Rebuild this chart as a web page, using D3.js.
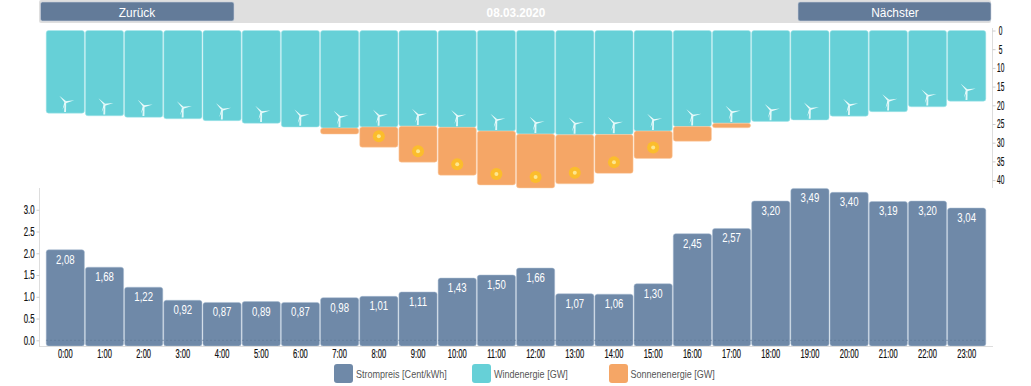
<!DOCTYPE html>
<html>
<head>
<meta charset="utf-8">
<script src="https://cdnjs.cloudflare.com/ajax/libs/d3/7.8.5/d3.min.js"></script>
<style>
  html, body { margin: 0; padding: 0; background: #fff; overflow: hidden; }
  svg { display: block; }
  text { font-family: "Liberation Sans", sans-serif; }
  .axis path { display: none; }
  .axis line { stroke: #ccc; }
  .axis text { fill: #111; font-size: 12px; stroke: #111; stroke-width: 0.2px; }
</style>
</head>
<body>
<svg width="1031" height="386"></svg>
<script>
const hours = ["0:00", "1:00", "2:00", "3:00", "4:00", "5:00", "6:00", "7:00", "8:00", "9:00", "10:00", "11:00",
    "12:00", "13:00", "14:00", "15:00", "16:00", "17:00", "18:00", "19:00", "20:00", "21:00", "22:00", "23:00"];
const price = [2.08, 1.68, 1.22, 0.92, 0.87, 0.89, 0.87, 0.98, 1.01, 1.11, 1.43, 1.50,
    1.66, 1.07, 1.06, 1.30, 2.45, 2.57, 3.20, 3.49, 3.40, 3.19, 3.20, 3.04];
const wind = [22.1, 22.8, 23.2, 23.6, 24.1, 24.8, 25.8, 26.1, 25.8, 25.6, 25.9, 26.9,
    27.7, 27.9, 27.8, 26.9, 25.7, 24.8, 24.3, 23.9, 22.9, 21.7, 20.4, 18.9];
const solar = [0, 0, 0, 0, 0, 0, 0, 1.6, 5.4, 9.6, 12.8, 14.4,
    14.4, 13.1, 10.4, 7.3, 3.9, 1.2, 0, 0, 0, 0, 0, 0];
const energyTicks = [0, 5, 10, 15, 20, 25, 30, 35, 40];
const priceTicks = [0, 0.5, 1, 1.5, 2, 2.5, 3];
const legendItems = ["Strompreis [Cent/kWh]", "Windenergie [GW]", "Sonnenenergie [GW]"];
const dateLabel = "08.03.2020";

const windColor = "#66d0d7", solarColor = "#f5a666", priceColor = "#6f89a8", buttonColor = "#637b99";
const legendColors = [priceColor, windColor, solarColor];
const legendX = [334, 472, 609];

// the installed fonts are all wider than the original, so squeeze the glyphs
function squeeze(sel, k) {
    sel.each(function () {
        this.setAttribute("textLength", this.getComputedTextLength() * k);
        this.setAttribute("lengthAdjust", "spacingAndGlyphs");
    });
}

let svg = d3.select("svg");

let x = d3.scaleBand()
    .domain(hours)
    .range([45.7, 986.3])
    .paddingInner(0.025)
    .paddingOuter(0.0125);

let yEnergy = d3.scaleLinear().domain([0, 40]).range([30.5, 180.1]);
let yPrice = d3.scaleLinear().domain([0, 3.5]).range([340.3, 188]);
const priceBase = 346;

// Header
svg.append("rect")
    .attr("x", 39).attr("y", 0)
    .attr("width", 952).attr("height", 23)
    .attr("rx", 2)
    .attr("fill", "#dfdfdf");

let buttons = [
    { label: "Zurück", x: 40.5, w: 193.5 },
    { label: "Nächster", x: 798, w: 193 }
];
let btn = svg.selectAll(".btn").data(buttons).join("g").attr("class", "btn");
btn.append("rect")
    .attr("x", d => d.x).attr("y", 2)
    .attr("width", d => d.w).attr("height", 19)
    .attr("rx", 2)
    .attr("fill", buttonColor)
    .attr("stroke", "#c9d2dd")
    .attr("stroke-width", 0.6);
btn.append("text")
    .attr("x", (d, i) => i == 0 ? 137 : 895)
    .attr("y", 17)
    .attr("text-anchor", "middle")
    .attr("fill", "#fff")
    .attr("font-size", 13.5)
    .text(d => d.label)
    .call(squeeze, 0.88);

svg.append("text")
    .attr("x", 516).attr("y", 17)
    .attr("text-anchor", "middle")
    .attr("fill", "#fff")
    .attr("font-size", 13.5)
    .attr("font-weight", "bold")
    .text(dateLabel)
    .call(squeeze, 0.87);

// Wind and solar bars
let energy = svg.append("g");
energy.selectAll(".wind").data(hours).join("rect")
    .attr("class", "wind")
    .attr("x", d => x(d))
    .attr("y", yEnergy(0))
    .attr("width", x.bandwidth())
    .attr("height", (d, i) => yEnergy(wind[i]) - yEnergy(0))
    .attr("rx", 2.5)
    .attr("fill", windColor)
    .attr("stroke", "#a9e6ea")
    .attr("stroke-width", 0.5);

energy.selectAll(".solar").data(hours.filter((d, i) => solar[i] > 0)).join("rect")
    .attr("class", "solar")
    .attr("x", d => x(d))
    .attr("y", d => yEnergy(wind[hours.indexOf(d)]))
    .attr("width", x.bandwidth())
    .attr("height", d => {
        let i = hours.indexOf(d);
        return yEnergy(wind[i] + solar[i]) - yEnergy(wind[i]);
    })
    .attr("rx", 2.5)
    .attr("fill", solarColor)
    .attr("stroke", "#fbcfa8")
    .attr("stroke-width", 0.5);

// Turbine icon, drawn around its hub
function turbine(g) {
    g.append("path")
        .attr("d", "M-0.7,-0.5 L0.9,-0.5 L0.7,9.8 L-1.2,9.8 Z")
        .attr("fill", "#dff7f8");
    g.append("path")
        .attr("d", "M0,-0.9 L9,-1.8 L0.5,1 Z M-0.9,0 L-6,-6.4 L0.9,-0.8 Z M-0.9,0 L-2.8,7.6 L0.6,0.5 Z")
        .attr("fill", "#e8fafa");
}
energy.selectAll(".turbine").data(hours).join("g")
    .attr("class", "turbine")
    .attr("transform", (d, i) => `translate(${x(d) + x.bandwidth() / 2},${yEnergy(wind[i]) - 11})`)
    .call(turbine);

// Sun icon only where the solar bar is tall enough
let sunHours = hours.filter((d, i) => solar[i] >= 5);
let sun = energy.selectAll(".sun").data(sunHours).join("g")
    .attr("class", "sun")
    .attr("transform", d => {
        let i = hours.indexOf(d);
        return `translate(${x(d) + x.bandwidth() / 2},${yEnergy(wind[i] + solar[i]) - 11})`;
    });
sun.append("circle").attr("r", 6).attr("fill", "#fbbd2c");
sun.append("circle").attr("r", 2).attr("fill", "#fde68f");

svg.append("line")
    .attr("x1", 992.5).attr("x2", 992.5)
    .attr("y1", 28).attr("y2", 188)
    .attr("stroke", "#ddd");

let energyAxis = svg.append("g")
    .attr("class", "axis")
    .attr("transform", "translate(992.5,0)")
    .call(d3.axisRight(yEnergy).tickValues(energyTicks).tickFormat(d3.format("d")).tickSize(3));
energyAxis.selectAll("text")
    .attr("x", 8.2)
    .attr("text-anchor", "middle")
    .call(squeeze, 0.55);

// Price bars
let bars = svg.append("g");
bars.selectAll(".price").data(hours).join("rect")
    .attr("class", "price")
    .attr("x", d => x(d))
    .attr("y", (d, i) => yPrice(price[i]))
    .attr("width", x.bandwidth())
    .attr("height", (d, i) => priceBase - yPrice(price[i]))
    .attr("rx", 2.5)
    .attr("fill", priceColor)
    .attr("stroke", "#a9bdd3")
    .attr("stroke-width", 0.5);

bars.selectAll(".value").data(hours).join("text")
    .attr("class", "value")
    .attr("x", d => x(d) + x.bandwidth() / 2)
    .attr("y", (d, i) => yPrice(price[i]) + 14)
    .attr("text-anchor", "middle")
    .attr("fill", "#fff")
    .attr("font-size", 12)
    .text((d, i) => price[i].toFixed(2).replace(".", ","))
    .call(squeeze, 0.8);

// dotted zero line over the bars
svg.append("line")
    .attr("x1", 46).attr("x2", 986)
    .attr("y1", yPrice(0)).attr("y2", yPrice(0))
    .attr("stroke", "#5b7493")
    .attr("stroke-opacity", 0.55)
    .attr("stroke-dasharray", "2,2");

svg.append("line")
    .attr("x1", 39.5).attr("x2", 39.5)
    .attr("y1", 188).attr("y2", priceBase)
    .attr("stroke", "#ddd");
svg.append("line")
    .attr("x1", 39).attr("x2", 993)
    .attr("y1", priceBase + 0.5).attr("y2", priceBase + 0.5)
    .attr("stroke", "#ddd");

let priceAxis = svg.append("g")
    .attr("class", "axis")
    .attr("transform", "translate(39.5,0)")
    .call(d3.axisLeft(yPrice).tickValues(priceTicks).tickFormat(d3.format(".1f")).tickSize(3).tickPadding(2));
priceAxis.selectAll("text").call(squeeze, 0.65);

let hourAxis = svg.append("g")
    .attr("class", "axis axis--x")
    .attr("transform", `translate(0,${priceBase})`)
    .call(d3.axisBottom(x).tickSize(0).tickPadding(3));
hourAxis.selectAll("text").call(squeeze, 0.63);

// Legend
let legend = svg.selectAll(".legend").data(legendItems).join("g")
    .attr("class", "legend")
    .attr("transform", (d, i) => `translate(${legendX[i]},364)`);
legend.append("rect")
    .attr("width", 19).attr("height", 19)
    .attr("rx", 3)
    .attr("fill", (d, i) => legendColors[i]);
legend.append("text")
    .attr("x", (d, i) => i == 2 ? 21.5 : 22)
    .attr("y", 13.5)
    .attr("fill", "#555")
    .attr("font-size", 11)
    .text(d => d)
    .call(squeeze, 0.82);
</script>
</body>
</html>
